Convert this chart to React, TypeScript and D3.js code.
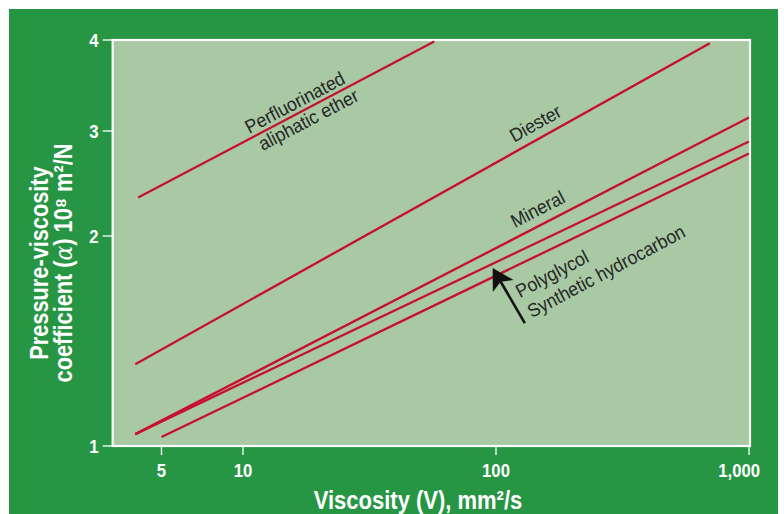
import React from "react";
import * as d3 from "d3";

const W = 784;
const H = 514;

// Axis ticks
const xTickValues = [5, 10, 100, 1000];
const xTickLabels = ["5", "10", "100", "1,000"];
const yTickValues = [1, 2, 3, 4];
const yTickLabels = ["1", "2", "3", "4"];

// Series (straight lines on log–log paper): start/end viscosity and alpha
const seriesNames = ["Perfluorinated aliphatic ether", "Diester", "Mineral", "Polyglycol", "Synthetic hydrocarbon"];
const startV = [4.1, 4.0, 4.0, 4.0, 5.0];
const endV = [57, 700, 1000, 1000, 1000];
const startAlpha = [2.32, 1.31, 1.04, 1.04, 1.03];
const endAlpha = [3.98, 3.96, 3.13, 2.88, 2.75];

// Arrow annotation (data coords)
const arrowFrom = [130, 1.5];
const arrowTo = [97, 1.8];

const FONT = "'Liberation Sans', Arial, Helvetica, sans-serif";
const GREEN = "#279644";
const PLOT = "#a8c9a4";
const RED = "#c8102e";
const INK = "#262626";

export default function App() {
  const x = d3.scaleLog().domain([5, 10, 100, 1000]).range([161.5, 243, 496, 749]);
  const y = d3.scaleLog().domain([1, 2, 3, 4]).range([446, 236, 131, 40]);

  const left = x(3.3);
  const right = x(1000) + 1;
  const top = y(4);
  const bottom = y(1);

  const line = d3.line<[number, number]>().x((d) => x(d[0])).y((d) => y(d[1]));

  const lines = seriesNames.map((name, i) => ({
    name,
    pts: [
      [startV[i], startAlpha[i]],
      [endV[i], endAlpha[i]],
    ] as [number, number][],
  }));

  const along = (i: number, xv: number) => {
    const x0 = x(startV[i]), y0 = y(startAlpha[i]);
    const x1 = x(endV[i]), y1 = y(endAlpha[i]);
    const px = x(xv);
    const t = (px - x0) / (x1 - x0);
    const py = y0 + t * (y1 - y0);
    const ang = (Math.atan2(y1 - y0, x1 - x0) * 180) / Math.PI;
    return { px, py, ang };
  };

  const labels = [
    { i: 0, xv: 16.8, dx: 0, dy: -4.5, text: "Perfluorinated" },
    { i: 0, xv: 16.8, dx: 4, dy: 17, text: "aliphatic ether" },
    { i: 1, xv: 153, dx: 0, dy: -8.5, text: "Diester" },
    { i: 2, xv: 156, dx: 0, dy: -9, text: "Mineral" },
  ];

  const ax0 = x(arrowFrom[0]), ay0 = y(arrowFrom[1]);
  const ax1 = x(arrowTo[0]), ay1 = y(arrowTo[1]);
  const len = Math.hypot(ax1 - ax0, ay1 - ay0);
  const ux = (ax1 - ax0) / len, uy = (ay1 - ay0) / len;
  const nx = -uy, ny = ux;
  const headL = 21, headW = 12, notch = 16;
  const bx = ax1 - headL * ux, by = ay1 - headL * uy;
  const head = [
    [ax1, ay1],
    [bx + headW * nx, by + headW * ny],
    [ax1 - notch * ux, ay1 - notch * uy],
    [bx - headW * nx, by - headW * ny],
  ];

  const pgPos = [x(124.4), y(1.628)];
  const shPos = [x(138.4), y(1.524)];

  const LS = 19;
  const LSX = 0.93;

  return (
    <div style={{ position: "absolute", left: 0, top: 0, width: W, height: H, background: "#fff" }}>
      <svg width={W} height={H} style={{ display: "block" }} fontFamily={FONT}>
        <rect x={0} y={0} width={W} height={H} fill="#fff" />
        <rect x={9} y={9} width={769} height={H - 9} fill={GREEN} />
        <rect x={left} y={top} width={right - left} height={bottom - top} fill={PLOT} stroke="#fff" strokeWidth={2.2} />

        {yTickValues.map((v, i) => (
          <g key={"y" + v}>
            <line x1={left - 10} x2={left} y1={y(v)} y2={y(v)} stroke="#fff" strokeWidth={1.3} />
            <text
              transform={`translate(${left - 14},${y(v) + 7}) scale(0.88,1)`}
              textAnchor="end"
              fill="#fff"
              fontWeight="bold"
              fontSize={19}
            >
              {yTickLabels[i]}
            </text>
          </g>
        ))}

        {xTickValues.map((v, i) => {
          const last = i === xTickValues.length - 1;
          return (
            <g key={"x" + v}>
              <line x1={x(v)} x2={x(v)} y1={bottom} y2={bottom + 9} stroke="#fff" strokeWidth={1.3} />
              <text
                transform={`translate(${x(v) + (last ? 11 : 0)},477) scale(0.88,1)`}
                textAnchor={last ? "end" : "middle"}
                fill="#fff"
                fontWeight="bold"
                fontSize={19}
              >
                {xTickLabels[i]}
              </text>
            </g>
          );
        })}

        {lines.map((l) => (
          <path key={l.name} d={line(l.pts) || ""} fill="none" stroke={RED} strokeWidth={2.3} />
        ))}

        {labels.map((lb, k) => {
          const p = along(lb.i, lb.xv);
          return (
            <text
              key={k}
              transform={`translate(${p.px},${p.py}) rotate(${p.ang}) translate(${lb.dx},${lb.dy}) scale(${LSX},1)`}
              textAnchor="middle"
              fill={INK}
              fontSize={LS}
            >
              {lb.text}
            </text>
          );
        })}

        <text transform={`translate(${pgPos[0]},${pgPos[1]}) rotate(-28) scale(${LSX},1)`} fill={INK} fontSize={LS}>
          Polyglycol
        </text>
        <text transform={`translate(${shPos[0]},${shPos[1]}) rotate(-28) scale(${LSX},1)`} fill={INK} fontSize={LS}>
          Synthetic hydrocarbon
        </text>

        <line x1={ax0} y1={ay0} x2={ax1 - notch * ux} y2={ay1 - notch * uy} stroke="#111" strokeWidth={2.6} />
        <path d={"M" + head.map((p) => p.join(",")).join("L") + "Z"} fill="#111" />

        <text transform="translate(418,509) scale(0.88,1)" textAnchor="middle" fill="#fff" fontWeight="bold" fontSize={25}>
          Viscosity (V), mm²/s
        </text>
        <g transform="translate(48,263) rotate(-90) scale(0.87,1)">
          <text x={0} y={0} textAnchor="middle" fill="#fff" fontWeight="bold" fontSize={25}>
            Pressure-viscosity
          </text>
          <text x={0} y={24} textAnchor="middle" fill="#fff" fontWeight="bold" fontSize={25}>
            coefficient (<tspan fontFamily="'DejaVu Serif', serif" fontWeight="normal" fontStyle="italic">α</tspan>) 10⁸ m²/N
          </text>
        </g>
      </svg>
    </div>
  );
}
